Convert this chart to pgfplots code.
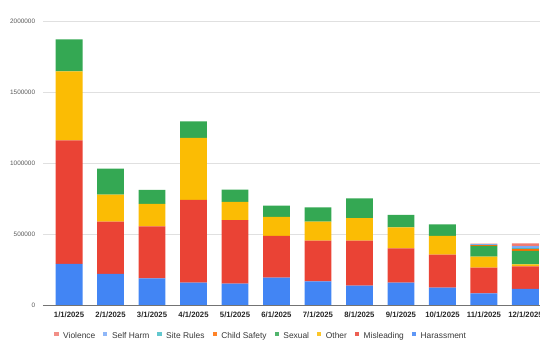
\documentclass[border=0pt]{standalone}
\usepackage{fontspec}
\setmainfont{Liberation Sans}
\usepackage{pgfplots}
\usepackage{pgfplotstable}
\pgfplotsset{compat=1.18}
\definecolor{cH}{HTML}{4285F4}
\definecolor{cM}{HTML}{EA4335}
\definecolor{cO}{HTML}{FBBC04}
\definecolor{cS}{HTML}{34A853}
\definecolor{cCS}{HTML}{FF6D01}
\definecolor{cSR}{HTML}{46BDC6}
\definecolor{cSH}{HTML}{7BAAF7}
\definecolor{cV}{HTML}{F07B72}
\pgfplotsset{sqlegend/.style={legend image code/.code={\fill[##1, fill opacity=0.85] (0pt,0.3pt) rectangle (3.1pt,3.4pt);}}}
\pgfplotstableread{
x H M O S CS SR SH V
0 289000 871000 485000 226000 0 0 0 0
1 219000 369000 189000 183000 0 0 0 0
2 188000 365000 160000 97000 0 0 0 0
3 158000 583000 436000 117000 0 0 0 0
4 151000 447000 129000 85000 0 0 0 0
5 193000 294000 134000 78000 0 0 0 0
6 167000 287000 134000 99000 0 0 0 0
7 136000 318000 157000 139000 0 0 0 0
8 158000 240000 148000 89000 0 0 0 0
9 122000 233000 132000 80000 0 0 0 0
10 82000 181000 78000 76000 4000 3000 4000 4000
11 113000 159000 14000 95000 14000 6000 14000 19000
}\data
\begin{document}
\begin{tikzpicture}
\path[use as bounding box] (-32.25pt,-41.25pt) rectangle (372.75pt,228.75pt);
\begin{axis}[
  at={(0,0)}, anchor=south west,
  scale only axis, width=372.75pt, height=213pt,
  xmin=-0.627, xmax=11.35, ymin=0, ymax=2000000,
  ybar stacked, bar width=0.65,
  xtick={0,...,11},
  xticklabels={1/1/2025,2/1/2025,3/1/2025,4/1/2025,5/1/2025,6/1/2025,7/1/2025,8/1/2025,9/1/2025,10/1/2025,11/1/2025,12/1/2025},
  ytick={0,500000,1000000,1500000,2000000},
  scaled y ticks=false,
  /pgf/number format/.cd, fixed, 1000 sep={}, assume math mode=true, /pgfplots/.cd,
  axis line style={draw=none},
  major tick length=0,
  ymajorgrids, grid style={color=black!12, line width=0.6pt},
  extra y ticks={0}, extra y tick labels={},
  extra y tick style={grid style={color=black!55, line width=0.7pt}},
  yticklabel style={font=\fontsize{4.8pt}{5pt}\selectfont, color=black!65, xshift=-2.4pt},
  xticklabel style={font=\fontsize{5.8pt}{6pt}\selectfont\bfseries, color=black!85, anchor=center, yshift=-7.3pt},
  clip=false,
  legend style={at={(0.4397,-0.1116)}, anchor=center, draw=none, fill=none,
    legend columns=-1, font=\fontsize{6.3pt}{7pt}\selectfont, text=black!78,
    /tikz/every odd column/.append style={column sep=1.5pt},
    /tikz/every even column/.append style={column sep=4pt}},
  reverse legend,
]
\addplot[fill=cH, draw=none, sqlegend] table[x=x,y=H] {\data};
\addlegendentry{Harassment}
\addplot[fill=cM, draw=none, sqlegend] table[x=x,y=M] {\data};
\addlegendentry{Misleading}
\addplot[fill=cO, draw=none, sqlegend] table[x=x,y=O] {\data};
\addlegendentry{Other}
\addplot[fill=cS, draw=none, sqlegend] table[x=x,y=S] {\data};
\addlegendentry{Sexual}
\addplot[fill=cCS, draw=none, sqlegend] table[x=x,y=CS] {\data};
\addlegendentry{Child Safety}
\addplot[fill=cSR, draw=none, sqlegend] table[x=x,y=SR] {\data};
\addlegendentry{Site Rules}
\addplot[fill=cSH, draw=none, sqlegend] table[x=x,y=SH] {\data};
\addlegendentry{Self Harm}
\addplot[fill=cV, draw=none, sqlegend] table[x=x,y=V] {\data};
\addlegendentry{Violence}
\end{axis}
\end{tikzpicture}
\end{document}
